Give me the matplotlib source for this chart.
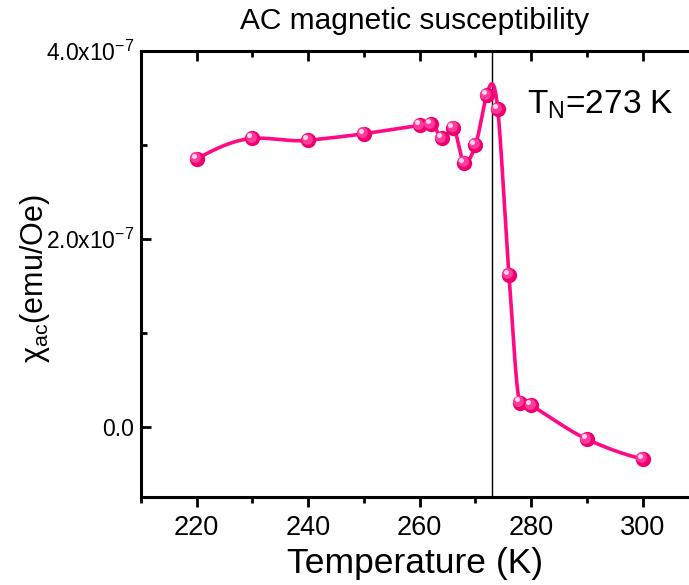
import numpy as np
import matplotlib
matplotlib.use('Agg')
import matplotlib.pyplot as plt
from matplotlib import transforms
from matplotlib.ticker import MultipleLocator, FuncFormatter

plt.rcParams['font.family'] = ['Liberation Sans', 'DejaVu Sans']
plt.rcParams['mathtext.fontset'] = 'custom'
plt.rcParams['mathtext.rm'] = 'Liberation Sans'
plt.rcParams['mathtext.it'] = 'Liberation Sans:italic'

# temperature (K) and chi_ac (in units of 1e-7 emu/Oe)
temp = [220, 230, 240, 250, 260, 262, 264, 266, 268, 270, 272, 274, 276, 278, 280, 290, 300]
chi = [2.85, 3.07, 3.05, 3.12, 3.21, 3.22, 3.07, 3.18, 2.81, 3.00, 3.53, 3.38, 1.62, 0.26, 0.23, -0.13, -0.34]
t_neel = 273
pink = '#FF0A84'


def akima_line(x, y, n=30):
    # smooth connecting line through the points (Akima spline, little overshoot)
    x = np.asarray(x, float)
    y = np.asarray(y, float)
    h = np.diff(x)
    d = np.diff(y) / h
    m = len(d)
    dd = np.empty(m + 4)
    dd[2:-2] = d
    dd[1] = 2 * d[0] - d[1]
    dd[0] = 2 * dd[1] - d[0]
    dd[-2] = 2 * d[-1] - d[-2]
    dd[-1] = 2 * dd[-2] - d[-1]
    t = np.empty(len(x))
    for i in range(len(x)):
        w1 = abs(dd[i + 3] - dd[i + 2])
        w2 = abs(dd[i + 1] - dd[i])
        if w1 + w2 == 0:
            t[i] = 0.5 * (dd[i + 1] + dd[i + 2])
        else:
            t[i] = (w1 * dd[i + 1] + w2 * dd[i + 2]) / (w1 + w2)
    xs, ys = [], []
    for i in range(m):
        s = np.linspace(0, 1, n, endpoint=False)
        h00 = 2 * s ** 3 - 3 * s ** 2 + 1
        h10 = s ** 3 - 2 * s ** 2 + s
        h01 = -2 * s ** 3 + 3 * s ** 2
        h11 = s ** 3 - s ** 2
        xs.append(x[i] + s * h[i])
        ys.append(h00 * y[i] + h10 * h[i] * t[i] + h01 * y[i + 1] + h11 * h[i] * t[i + 1])
    xs.append([x[-1]])
    ys.append([y[-1]])
    return np.concatenate(xs), np.concatenate(ys)


fig = plt.figure(figsize=(6.89, 5.85), dpi=100)
ax = fig.add_axes([0.2046, 0.1504, 0.7954, 0.7624])

T = np.array(temp)
X = np.array(chi) * 1e-7
sx, sy = akima_line(T, X)
ax.plot(sx, sy, color=pink, lw=2.6, zorder=3)

# shaded sphere markers
ax.plot(T, X, 'o', ms=11, color='#F0006E', mec='none', zorder=4)
tr = transforms.offset_copy(ax.transData, fig=fig, x=-1.2, y=1.2, units='points')
ax.plot(T, X, 'o', ms=7.8, color='#FF3C9C', mec='none', zorder=5, transform=tr)
tr2 = transforms.offset_copy(ax.transData, fig=fig, x=-2.2, y=2.2, units='points')
ax.plot(T, X, 'o', ms=3.6, color='#FFD6EA', mec='none', zorder=6, transform=tr2)

ax.axvline(t_neel, color='black', lw=1.0, zorder=2)

ax.set_xlim(210, 308.3)
ax.set_ylim(-0.745e-7, 4.0e-7)
ax.xaxis.set_major_locator(MultipleLocator(20))
ax.xaxis.set_minor_locator(MultipleLocator(10))
ax.yaxis.set_major_locator(MultipleLocator(2e-7))
ax.yaxis.set_minor_locator(MultipleLocator(1e-7))


def yfmt(v, pos):
    if abs(v) < 1e-12:
        return '0.0'
    return '%.1fx10$^{\\mathregular{-7}}$' % (v / 1e-7)


ax.yaxis.set_major_formatter(FuncFormatter(yfmt))

for s in ['left', 'bottom', 'top']:
    ax.spines[s].set_linewidth(2.2)
ax.spines['right'].set_visible(False)

ax.tick_params(axis='x', which='both', direction='out', top=True, width=2, labelsize=19.5, pad=6)
ax.tick_params(axis='x', which='major', length=7)
ax.tick_params(axis='x', which='minor', length=4)
ax.tick_params(axis='y', which='both', direction='in', width=2, labelsize=16.5, pad=5)
ax.tick_params(axis='y', which='major', length=7)
ax.tick_params(axis='y', which='minor', length=4)
# ticks on the top spine point inward
for t in ax.xaxis.get_major_ticks() + ax.xaxis.get_minor_ticks():
    t.tick2line.set_marker(3)

ax.set_xlabel('Temperature (K)', fontsize=25.5)
ax.xaxis.set_label_coords(0.5, -0.113)
ax.set_ylabel('$\\mathregular{\\chi_{ac}}$(emu/Oe)', fontsize=22)
ax.yaxis.set_label_coords(-0.163, 0.49)
ax.set_title('AC magnetic susceptibility', fontsize=21.5, pad=16)

ax.text(279.2, 3.43e-7, 'T$_\\mathregular{N}$=273 K', fontsize=24, ha='left', va='center')

fig.savefig('out.png', dpi=100)
